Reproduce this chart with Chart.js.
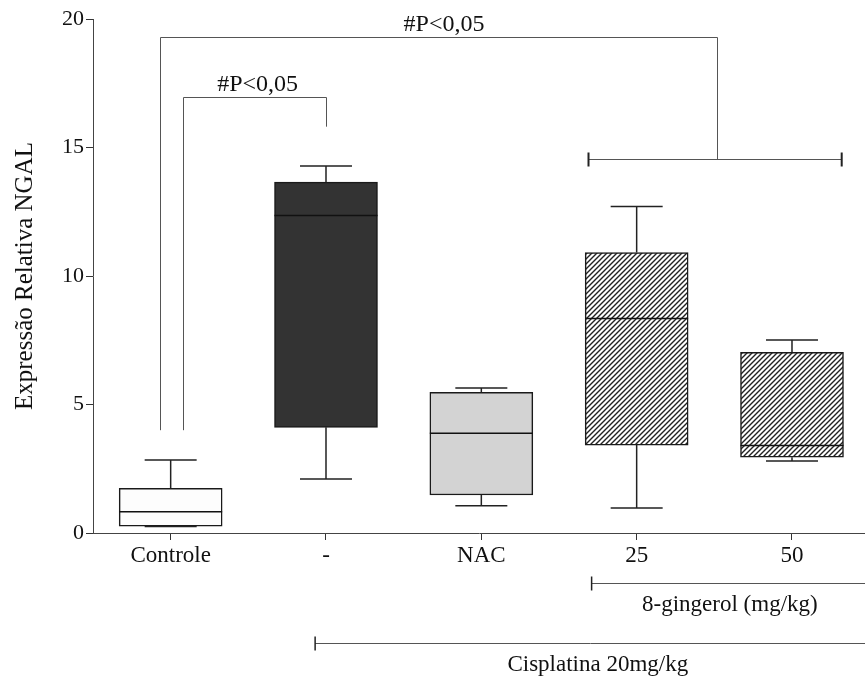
<!DOCTYPE html>
<html>
<head>
<meta charset="utf-8">
<script src="https://cdn.jsdelivr.net/npm/chart.js@4.4.1/dist/chart.umd.min.js"></script>
<style>
  html, body { margin: 0; padding: 0; background: #fff; }
  #wrap { width: 865px; height: 677px; }
</style>
</head>
<body>
<div id="wrap"><canvas id="chart" width="865" height="677"></canvas></div>
<script>
// dados
const categories = ['Controle', '-', 'NAC', '25', '50'];
const whiskerMin = [0.25, 2.1, 1.06, 0.97, 2.8];
const q1 = [0.27, 4.11, 1.48, 3.42, 2.95];
const median = [0.83, 12.35, 3.88, 8.35, 3.4];
const q3 = [1.74, 13.65, 5.47, 10.91, 7.03];
const whiskerMax = [2.84, 14.28, 5.64, 12.7, 7.51];
const yTicks = [0, 5, 10, 15, 20];

const FONT = "'Liberation Serif', 'Times New Roman', serif";
const INK = '#222';

// hachura diagonal para os grupos 8-gingerol
function hatch() {
  const c = document.createElement('canvas');
  c.width = 5; c.height = 5;
  const g = c.getContext('2d');
  g.fillStyle = '#fff';
  g.fillRect(0, 0, 5, 5);
  g.strokeStyle = '#222';
  g.lineWidth = 1.4;
  g.beginPath();
  g.moveTo(-1, 6); g.lineTo(6, -1);
  g.moveTo(-1, 1); g.lineTo(1, -1);
  g.moveTo(4, 6); g.lineTo(6, 4);
  g.stroke();
  return g.createPattern(c, 'repeat');
}
const pat = hatch();
const fills = ['#fdfdfd', '#333333', '#d3d3d3', pat, pat];

// brackets de significância (unidades dos eixos)
const brackets = [
  { x1: -0.07, x2: 3.52, y: 19.3, drop1: 4.0, drop2: 14.54, label: '#P<0,05', labelX: 1.76 },
  { x1: 0.08, x2: 1.0, y: 16.98, drop1: 4.0, drop2: 15.81, label: '#P<0,05', labelX: 0.56 }
];
const groupBar = { x1: 2.69, x2: 4.32, y: 14.54 };
const groups = [
  { from: 2.71, label: '8-gingerol (mg/kg)', textX: 3.6, dy: 50 },
  { from: 0.93, label: 'Cisplatina 20mg/kg', textX: 2.75, dy: 110 }
];

const boxPlugin = {
  id: 'boxExtras',
  afterDatasetsDraw(chart) {
    const { ctx, scales: { x, y } } = chart;
    const half = 26;
    ctx.save();
    ctx.strokeStyle = INK;
    ctx.lineWidth = 1.5;
    categories.forEach((c, i) => {
      const cx = x.getPixelForValue(i);
      ctx.beginPath();
      // bigodes
      ctx.moveTo(cx, y.getPixelForValue(q3[i]));
      ctx.lineTo(cx, y.getPixelForValue(whiskerMax[i]));
      ctx.moveTo(cx - half, y.getPixelForValue(whiskerMax[i]));
      ctx.lineTo(cx + half, y.getPixelForValue(whiskerMax[i]));
      ctx.moveTo(cx, y.getPixelForValue(q1[i]));
      ctx.lineTo(cx, y.getPixelForValue(whiskerMin[i]));
      ctx.moveTo(cx - half, y.getPixelForValue(whiskerMin[i]));
      ctx.lineTo(cx + half, y.getPixelForValue(whiskerMin[i]));
      ctx.stroke();
      // mediana
      const bw = 103 / 2;
      ctx.beginPath();
      ctx.strokeStyle = '#111';
      ctx.moveTo(cx - bw, y.getPixelForValue(median[i]));
      ctx.lineTo(cx + bw, y.getPixelForValue(median[i]));
      ctx.stroke();
      ctx.strokeStyle = INK;
    });

    // brackets
    ctx.strokeStyle = '#555';
    ctx.lineWidth = 1;
    ctx.fillStyle = '#111';
    ctx.font = '24px ' + FONT;
    ctx.textAlign = 'center';
    ctx.textBaseline = 'bottom';
    brackets.forEach(b => {
      const x1 = Math.round(x.getPixelForValue(b.x1)) + 0.5;
      const x2 = Math.round(x.getPixelForValue(b.x2)) + 0.5;
      const yy = Math.round(y.getPixelForValue(b.y)) + 0.5;
      ctx.beginPath();
      ctx.moveTo(x1, y.getPixelForValue(b.drop1));
      ctx.lineTo(x1, yy);
      ctx.lineTo(x2, yy);
      ctx.lineTo(x2, y.getPixelForValue(b.drop2));
      ctx.stroke();
      ctx.fillText(b.label, x.getPixelForValue(b.labelX), yy - 1);
    });
    const gx1 = x.getPixelForValue(groupBar.x1), gx2 = x.getPixelForValue(groupBar.x2);
    const gy = Math.round(y.getPixelForValue(groupBar.y)) + 0.5;
    ctx.beginPath();
    ctx.moveTo(gx1, gy); ctx.lineTo(gx2, gy);
    ctx.stroke();
    ctx.strokeStyle = INK;
    ctx.lineWidth = 2;
    ctx.beginPath();
    ctx.moveTo(gx1, gy - 7); ctx.lineTo(gx1, gy + 7);
    ctx.moveTo(gx2, gy - 7); ctx.lineTo(gx2, gy + 7);
    ctx.stroke();

    // linhas de grupo abaixo do eixo
    const base = chart.chartArea.bottom;
    ctx.font = '23px ' + FONT;
    ctx.textBaseline = 'middle';
    groups.forEach(g => {
      const gyy = base + g.dy + 0.5;
      const sx = x.getPixelForValue(g.from);
      ctx.strokeStyle = '#555';
      ctx.lineWidth = 1;
      ctx.beginPath();
      ctx.moveTo(sx, gyy); ctx.lineTo(chart.width + 5, gyy);
      ctx.stroke();
      ctx.strokeStyle = INK;
      ctx.lineWidth = 1.5;
      ctx.beginPath();
      ctx.moveTo(sx, gyy - 7); ctx.lineTo(sx, gyy + 7);
      ctx.stroke();
      ctx.fillText(g.label, x.getPixelForValue(g.textX), gyy + 21);
    });
    ctx.restore();
  }
};

new Chart(document.getElementById('chart'), {
  type: 'bar',
  data: {
    datasets: [{
      data: categories.map((c, i) => ({ x: i, y: [q1[i], q3[i]] })),
      backgroundColor: fills,
      borderColor: '#1a1a1a',
      borderWidth: 1.5,
      borderSkipped: false,
      barThickness: 103
    }]
  },
  options: {
    responsive: false,
    animation: false,
    layout: { padding: { top: 19, right: 0, left: 0, bottom: 0 } },
    plugins: { legend: { display: false }, tooltip: { enabled: false } },
    scales: {
      x: {
        type: 'linear',
        offset: false,
        min: -0.5,
        max: 4.47,
        afterBuildTicks: s => { s.ticks = categories.map((c, i) => ({ value: i })); },
        afterFit: s => { s.height = 144; },
        ticks: {
          callback: v => categories[v],
          color: '#111',
          font: { family: FONT, size: 23 },
          padding: 2,
          maxRotation: 0,
          autoSkip: false
        },
        grid: { offset: false, drawOnChartArea: false, tickLength: 7, color: '#333' },
        border: { color: '#444', width: 1 }
      },
      y: {
        min: 0,
        max: 20,
        afterBuildTicks: s => { s.ticks = yTicks.map(v => ({ value: v })); },
        afterFit: s => { s.width = 93; },
        ticks: {
          color: '#111',
          font: { family: FONT, size: 22 },
          padding: 2
        },
        grid: { drawOnChartArea: false, tickLength: 7, color: '#333' },
        border: { color: '#444', width: 1 },
        title: {
          display: true,
          text: 'Expressão Relativa NGAL',
          color: '#111',
          font: { family: FONT, size: 25 },
          padding: { top: 10, bottom: 0 }
        }
      }
    }
  },
  plugins: [boxPlugin]
});
</script>
</body>
</html>
